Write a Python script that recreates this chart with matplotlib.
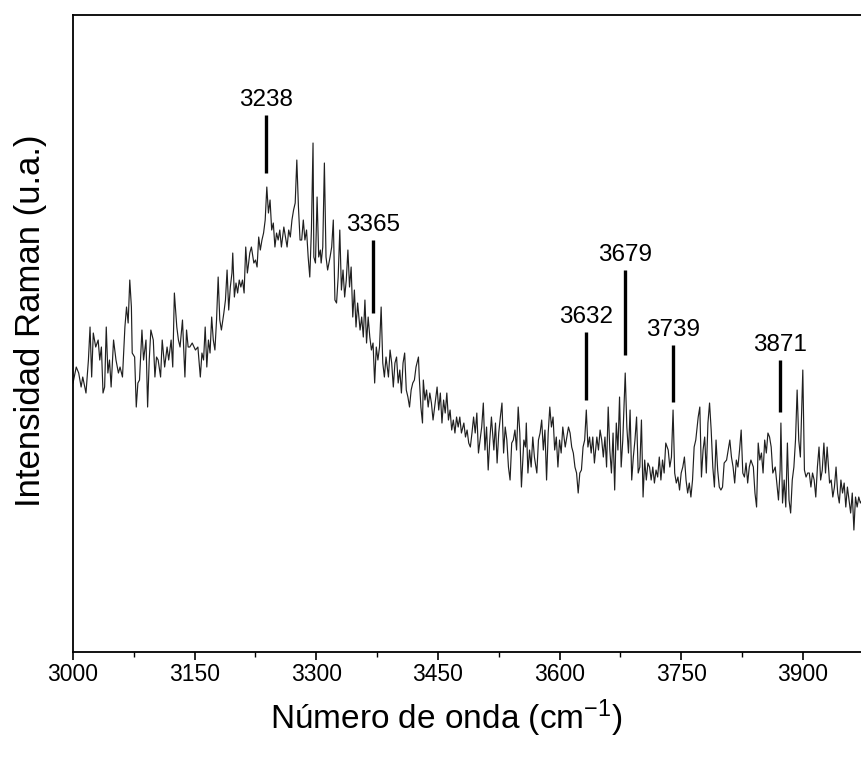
import matplotlib.pyplot as plt

plt.rcParams['font.family'] = ['Liberation Sans', 'DejaVu Sans']
plt.rcParams['mathtext.default'] = 'regular'

# espectro Raman (número de onda en cm-1, intensidad en u.a.)
wavenumber = [
    3000, 3004, 3007, 3010, 3012, 3016, 3019, 3021, 3023, 3025, 3028, 3031, 3033, 3035, 3037,
    3039, 3041, 3043, 3045, 3047, 3050, 3053, 3056, 3058, 3061, 3064, 3066, 3068, 3070, 3072,
    3073, 3076, 3078, 3080, 3082, 3085, 3087, 3090, 3092, 3094, 3096, 3099, 3101, 3103, 3105,
    3108, 3110, 3113, 3116, 3118, 3121, 3123, 3125, 3128, 3130, 3132, 3135, 3138, 3140, 3142,
    3144, 3147, 3151, 3154, 3156, 3157, 3159, 3161, 3163, 3165, 3167, 3169, 3171, 3173, 3175,
    3177, 3179, 3181, 3183, 3186, 3188, 3190, 3192, 3194, 3196, 3197, 3199, 3201, 3203, 3205,
    3207, 3209, 3211, 3213, 3215, 3216, 3218, 3220, 3223, 3225, 3227, 3229, 3231, 3233, 3235,
    3237, 3239, 3241, 3243, 3245, 3247, 3249, 3251, 3253, 3255, 3257, 3260, 3262, 3264, 3266,
    3268, 3270, 3272, 3274, 3276, 3278, 3280,
    3282, 3284, 3286, 3288, 3290, 3292, 3294, 3296, 3297, 3299, 3301, 3303, 3305, 3306, 3308,
    3310, 3312, 3314, 3317, 3319, 3321, 3323, 3325, 3327, 3329, 3331, 3333, 3335, 3337, 3339,
    3341, 3343, 3345, 3347, 3349, 3351, 3354, 3356, 3358, 3360, 3362, 3364, 3366, 3368, 3370,
    3372, 3374, 3376, 3378, 3380, 3382, 3384, 3386, 3389, 3391, 3393, 3395, 3397, 3399, 3401,
    3403, 3405, 3407, 3409, 3411, 3413, 3415, 3417, 3419,
    3421, 3423, 3426, 3427, 3429, 3431, 3432, 3434, 3436, 3438, 3440, 3442, 3444, 3447, 3449,
    3451, 3453, 3455, 3457, 3459, 3461, 3463, 3465, 3467, 3469, 3471, 3473, 3475, 3477, 3479,
    3482, 3484, 3486, 3488, 3490, 3492, 3494, 3496, 3498, 3500, 3502, 3504, 3506, 3508, 3510,
    3512, 3514, 3516, 3519, 3521, 3523, 3525, 3527, 3529, 3531, 3533, 3535, 3537, 3539, 3541,
    3543, 3545, 3547, 3549, 3551, 3553, 3556, 3558,
    3559, 3561, 3563, 3565, 3567, 3569, 3572, 3574, 3576, 3578, 3580, 3582, 3584, 3586, 3588,
    3590, 3592, 3594, 3596, 3598, 3600, 3602, 3604, 3607, 3609, 3611, 3613, 3615, 3617, 3619,
    3621, 3623, 3625, 3627, 3629, 3631, 3633, 3635, 3637, 3639, 3641, 3643, 3646, 3648, 3650,
    3652, 3654, 3656, 3658, 3660, 3662, 3664, 3666, 3668, 3670, 3672, 3674, 3676, 3678, 3681,
    3683, 3685, 3687, 3689, 3691, 3693, 3695, 3697,
    3699, 3701, 3703, 3705, 3707, 3709, 3711, 3713, 3715, 3717, 3719, 3721, 3723, 3725, 3727,
    3729, 3731, 3734, 3736, 3738, 3740, 3742, 3744, 3746, 3748, 3750, 3752, 3754, 3756, 3758,
    3760, 3762, 3764, 3766, 3768, 3771, 3773, 3775, 3777, 3779, 3781, 3783, 3785, 3787, 3789,
    3791, 3793, 3795, 3797, 3799, 3801, 3803, 3806, 3808, 3810, 3812, 3814, 3816, 3818, 3820,
    3822, 3824, 3826, 3828, 3830, 3832, 3834, 3836,
    3839, 3841, 3843, 3845, 3847, 3849, 3851, 3853, 3855, 3857, 3859, 3861, 3863, 3866, 3868,
    3870, 3872, 3873, 3875, 3877, 3879, 3881, 3883, 3885, 3887, 3889, 3891, 3893, 3895, 3897,
    3900, 3902, 3904, 3906, 3908, 3910, 3912, 3914, 3916, 3918, 3920, 3922, 3924, 3926, 3928,
    3930, 3933, 3935, 3937, 3939, 3941, 3943, 3945, 3947, 3949, 3951, 3953, 3955, 3957, 3959,
    3961, 3963, 3965, 3967, 3969, 3971, 3973,
]

intensity = [
    269, 285, 279, 265, 275, 259, 292, 325, 275, 319, 305, 312, 292, 305, 259,
    265, 325, 279, 292, 265, 312, 292, 279, 285, 275, 325, 345, 329, 372, 345,
    299, 295, 245, 269, 272, 322, 292, 312, 245, 292, 322, 312, 275, 295, 292,
    275, 312, 285, 305, 292, 312, 285, 359, 325, 312, 305, 332, 275, 322, 305,
    305, 309, 302, 305, 285, 275, 299, 292, 325, 285, 312, 299, 335, 312, 302,
    332, 375, 332, 322, 339, 352, 382, 342, 365, 379, 399, 355, 369, 359, 372,
    365, 372, 359, 405, 379, 385, 399, 405, 389, 392, 385, 415, 402, 412, 419,
    432, 465, 439, 452, 422, 429, 405, 419, 412, 422, 405, 425, 415, 405, 422,
    415, 432, 442, 449, 492, 445, 412,
    412, 432, 412, 422, 395, 375, 422, 509, 395, 389, 455, 395, 402, 389, 405,
    489, 395, 382, 395, 405, 432, 352, 349, 375, 422, 362, 382, 355, 372, 402,
    365, 385, 335, 362, 325, 349, 322, 335, 315, 352, 309, 335, 315, 302, 309,
    269, 305, 292, 305, 345, 289, 275, 295, 275, 302, 289, 265, 289, 295, 269,
    282, 259, 289, 299, 262, 255, 245, 262, 269,
    272, 285, 295, 275, 245, 229, 272, 252, 262, 245, 259, 249, 232, 252, 265,
    242, 259, 229, 252, 239, 259, 232, 242, 222, 232, 219, 235, 225, 235, 219,
    229, 215, 222, 209, 205, 219, 235, 219, 239, 199, 212, 225, 249, 202, 225,
    182, 212, 235, 202, 229, 189, 219, 235, 249, 199, 225, 212, 185, 172, 209,
    212, 222, 202, 245, 219, 165, 212, 205,
    229, 179, 202, 185, 215, 195, 179, 212, 219, 232, 202, 222, 172, 219, 245,
    225, 235, 202, 215, 185, 212, 199, 225, 205, 215, 225, 219, 205, 199, 185,
    179, 159, 179, 182, 205, 212, 242, 205, 215, 199, 215, 189, 215, 202, 222,
    212, 195, 215, 185, 245, 202, 179, 219, 162, 229, 202, 255, 185, 212, 279,
    225, 199, 242, 172, 195, 212, 235, 179,
    185, 232, 155, 192, 172, 189, 185, 172, 185, 169, 182, 175, 195, 172, 192,
    179, 209, 202, 185, 195, 242, 179, 169, 175, 162, 179, 185, 195, 172, 159,
    169, 155, 172, 205, 212, 235, 245, 175, 202, 215, 179, 229, 249, 222, 185,
    165, 212, 182, 165, 162, 165, 189, 192, 202, 212, 195, 185, 169, 192, 185,
    202, 222, 179, 175, 189, 169, 185, 192,
    185, 159, 145, 209, 192, 199, 179, 212, 199, 219, 215, 205, 179, 185, 169,
    152, 182, 229, 149, 172, 145, 209, 152, 139, 172, 185, 212, 262, 212, 195,
    282, 182, 175, 179, 179, 165, 179, 172, 155, 185, 205, 172, 182, 209, 179,
    205, 169, 172, 155, 165, 185, 159, 149, 172, 159, 169, 145, 165, 152, 139,
    159, 122, 155, 145, 155, 149, 152,
]

# bandas señaladas
peak_labels = ["3238", "3365", "3632", "3679", "3739", "3871"]
peak_pos = [3238, 3370, 3633, 3681, 3740, 3872]
mark_low = [479, 339, 252, 297, 250, 240]
mark_high = [537, 412, 320, 382, 307, 292]

fig = plt.figure(figsize=(8.62, 7.58), dpi=100)
ax = fig.add_axes([0.0847, 0.1398, 0.9153, 0.8404])

ax.plot(wavenumber, intensity, color="#202020", lw=0.85)
ax.vlines(peak_pos, mark_low, mark_high, color="black", lw=2.4)
for lab, x, top in zip(peak_labels, peak_pos, mark_high):
    ax.text(x, top + 9, lab, ha="center", va="baseline", fontsize=17.5)

ax.set_xlim(3000, 3973)
ax.set_ylim(0, 637)
ax.set_xticks(range(3000, 3901, 150))
ax.set_xticks(range(3075, 3973, 150), minor=True)
ax.set_yticks([])
ax.spines["right"].set_visible(False)
for s in ["left", "bottom", "top"]:
    ax.spines[s].set_linewidth(1.3)
ax.tick_params(axis="x", which="major", direction="out", length=6, width=1.2,
               labelsize=16.5, pad=2)
ax.tick_params(axis="x", which="minor", direction="out", length=3.5, width=1.0)

ax.set_xlabel("Número de onda (cm$^{-1}$)", fontsize=24)
ax.set_ylabel("Intensidad Raman (u.a.)", fontsize=25)
ax.xaxis.set_label_coords(0.473, -0.071)
ax.yaxis.set_label_coords(-0.033, 0.52)

fig.savefig("out.png", dpi=100)
